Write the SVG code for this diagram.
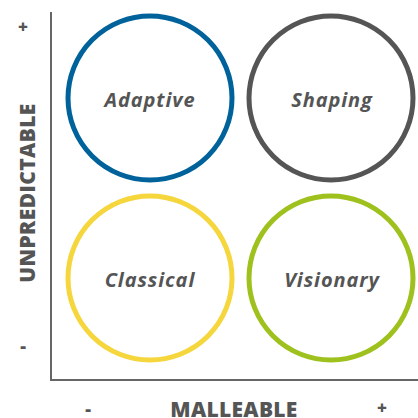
<svg xmlns="http://www.w3.org/2000/svg" width="418" height="418" viewBox="0 0 418 418">
<style>
.ring{fill:#fff;stroke-width:5}
.lbl{font-family:"Open Sans","Liberation Sans",sans-serif;font-style:italic;font-weight:700;font-size:20px;letter-spacing:0.9px;fill:#555;text-anchor:middle}
.ax{font-family:"Open Sans","Liberation Sans",sans-serif;font-weight:800;fill:#555;text-anchor:middle}
</style>
<rect width="418" height="418" fill="#fff"/>
<g id="axes">
<polyline points="51,12 51,380 418,380" fill="none" stroke="#666" stroke-width="2"/>
</g>
<g id="axis-labels">
<text class="ax" font-size="21" letter-spacing="0.4" transform="translate(35,193) rotate(-90)">UNPREDICTABLE</text>
<text class="ax" font-size="17" x="23" y="33">+</text>
<text class="ax" font-size="18" x="23" y="352">-</text>
<text class="ax" font-size="18" x="88" y="415">-</text>
<text class="ax" font-size="21" letter-spacing="0.3" x="234" y="417">MALLEABLE</text>
<text class="ax" font-size="17" x="382" y="414">+</text>
</g>
<g id="adaptive">
<circle class="ring" cx="150" cy="98" r="82" stroke="#00629B"/>
<text class="lbl" x="150" y="107">Adaptive</text>
</g>
<g id="shaping">
<circle class="ring" cx="331" cy="98" r="82" stroke="#555555"/>
<text class="lbl" x="332" y="107">Shaping</text>
</g>
<g id="classical">
<circle class="ring" cx="150" cy="278" r="82" stroke="#F5D63D"/>
<text class="lbl" x="150" y="287">Classical</text>
</g>
<g id="visionary">
<circle class="ring" cx="331" cy="278" r="82" stroke="#9FC11E"/>
<text class="lbl" x="332" y="287">Visionary</text>
</g>
<g id="connectors"/>
</svg>
